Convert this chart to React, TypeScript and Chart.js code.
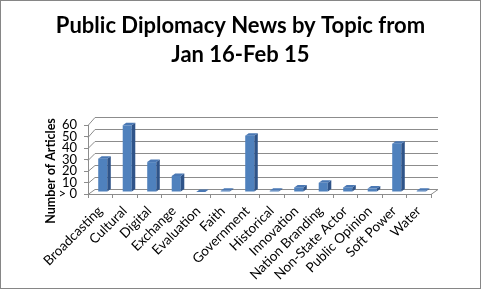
import React, { useEffect, useRef } from "react";
import { Chart, registerables } from "chart.js";

Chart.register(...registerables);

const categories = [
  "Broadcasting", "Cultural", "Digital", "Exchange", "Evaluation", "Faith",
  "Government", "Historical", "Innovation", "Nation Branding", "Non-State Actor",
  "Public Opinion", "Soft Power", "Water",
];
const articles = [29, 58, 26, 14, 0, 1, 49, 1, 4, 8, 4, 3, 42, 1];
const yTicks = [0, 10, 20, 30, 40, 50, 60];
const zeroLabel = "> 0";
const titleLines = ["Public Diplomacy News by Topic from", "Jan 16-Feb 15"];
const yAxisTitle = "Number of Articles";

const FONT = "Lato, 'Liberation Sans', sans-serif";
const GRID = "#8c8c8c";
const DX = 7; // depth offset x
const DY0 = 5.3; // depth offset y at 0
const K = 0.04; // perspective growth

const threeD = {
  id: "threeD",
  beforeDatasetsDraw(chart: any) {
    const { ctx, chartArea, scales } = chart;
    const y = scales.y;
    const back = (v: number) => {
      const fy = y.getPixelForValue(v);
      return fy - DY0 - (y.getPixelForValue(0) - fy) * K;
    };
    ctx.save();
    ctx.strokeStyle = GRID;
    ctx.lineWidth = 1;
    yTicks.forEach((v) => {
      const fy = Math.round(y.getPixelForValue(v)) + 0.5;
      const by = Math.round(back(v)) + 0.5;
      ctx.beginPath();
      ctx.moveTo(chartArea.left, fy);
      ctx.lineTo(chartArea.left + DX, by);
      ctx.lineTo(chartArea.right + DX, by);
      ctx.stroke();
    });
    const fy0 = Math.round(y.getPixelForValue(0)) + 0.5;
    ctx.beginPath();
    ctx.moveTo(chartArea.right, fy0);
    ctx.lineTo(chartArea.right + DX, Math.round(back(0)) + 0.5);
    ctx.stroke();
    ctx.restore();
  },
  beforeDatasetDraw(chart: any) {
    chart.ctx.save();
    chart.ctx.translate(2.5, -2);
  },
  afterDatasetDraw(chart: any) {
    const { ctx } = chart;
    const meta = chart.getDatasetMeta(0);
    const d = 3.5;
    const dd = 2.5;
    meta.data.forEach((bar: any) => {
      const { x, y, base, width } = bar.getProps(["x", "y", "base", "width"], true);
      const l = x - width / 2;
      const r = x + width / 2;
      ctx.fillStyle = "#2f5489";
      ctx.beginPath();
      ctx.moveTo(r, y);
      ctx.lineTo(r + d, y - dd);
      ctx.lineTo(r + d, base - dd);
      ctx.lineTo(r, base);
      ctx.closePath();
      ctx.fill();
      ctx.fillStyle = "#4a78b4";
      ctx.beginPath();
      ctx.moveTo(l, y);
      ctx.lineTo(r, y);
      ctx.lineTo(r + d, y - dd);
      ctx.lineTo(l + d, y - dd);
      ctx.closePath();
      ctx.fill();
    });
    ctx.restore();
  },
  afterDraw(chart: any) {
    const { ctx } = chart;
    ctx.save();
    ctx.translate(51, 171);
    ctx.rotate(-Math.PI / 2);
    ctx.font = `bold 12.5px ${FONT}`;
    ctx.fillStyle = "#000";
    ctx.textAlign = "center";
    ctx.textBaseline = "middle";
    ctx.fillText(yAxisTitle, 0, 0);
    ctx.restore();
    ctx.save();
    ctx.strokeStyle = "#868686";
    ctx.lineWidth = 1;
    ctx.strokeRect(0.5, 0.5, chart.width - 1, chart.height - 1);
    ctx.restore();
  },
};

export default function App() {
  const ref = useRef<HTMLCanvasElement>(null);
  useEffect(() => {
    if (!ref.current) return;
    const chart = new Chart(ref.current, {
      type: "bar",
      data: {
        labels: categories,
        datasets: [
          {
            data: articles,
            backgroundColor: (c: any) => {
              const el = c.element;
              if (!el || el.x === undefined || isNaN(el.x)) return "#4f81bd";
              const w = el.width || 9;
              const g = c.chart.ctx.createLinearGradient(el.x - w / 2, 0, el.x + w / 2, 0);
              g.addColorStop(0, "#3f6fae");
              g.addColorStop(0.35, "#5b8fd3");
              g.addColorStop(1, "#4677b8");
              return g;
            },
            borderWidth: 0,
            barPercentage: 0.74,
            categoryPercentage: 0.5,
            clip: false as any,
          },
        ],
      },
      options: {
        responsive: false,
        animation: false,
        layout: { padding: 0 },
        plugins: {
          legend: { display: false },
          tooltip: { enabled: false },
          title: {
            display: true,
            text: titleLines,
            color: "#000",
            font: { family: FONT, size: 22, weight: "bold", lineHeight: "29px" },
            padding: { top: 11.5, bottom: 55.5 },
          },
        },
        scales: {
          x: {
            offset: true,
            grid: {
              display: true,
              drawOnChartArea: false,
              drawTicks: true,
              tickLength: 4,
              offset: true,
              color: GRID,
            },
            border: { display: true, color: GRID },
            ticks: {
              minRotation: 45,
              maxRotation: 45,
              autoSkip: false,
              padding: 5,
              color: "#000",
              font: { family: FONT, size: 13.5 },
            },
            afterFit: (s: any) => {
              s.height = 95;
            },
          },
          y: {
            min: 0,
            max: 60,
            afterBuildTicks: (s: any) => {
              s.ticks = yTicks.map((v) => ({ value: v }));
            },
            grid: {
              display: true,
              drawOnChartArea: false,
              drawTicks: true,
              tickLength: 4,
              color: GRID,
            },
            border: { display: true, color: GRID },
            ticks: {
              autoSkip: false,
              padding: 7,
              color: "#000",
              font: { family: FONT, size: 13 },
              callback: (v: any) => (v === 0 ? zeroLabel : String(v)),
            },
            afterFit: (s: any) => {
              s.width = 88;
            },
          },
          yr: {
            position: "right",
            display: true,
            min: 0,
            max: 60,
            grid: { display: false },
            border: { display: false },
            ticks: { display: false },
            afterFit: (s: any) => {
              s.width = 50;
            },
          },
        },
      },
      plugins: [threeD],
    });
    return () => chart.destroy();
  }, []);
  return (
    <div style={{ position: "fixed", left: 0, top: 0, width: 481, height: 289, background: "#fff" }}>
      <canvas ref={ref} width={481} height={289} style={{ display: "block" }} />
    </div>
  );
}
